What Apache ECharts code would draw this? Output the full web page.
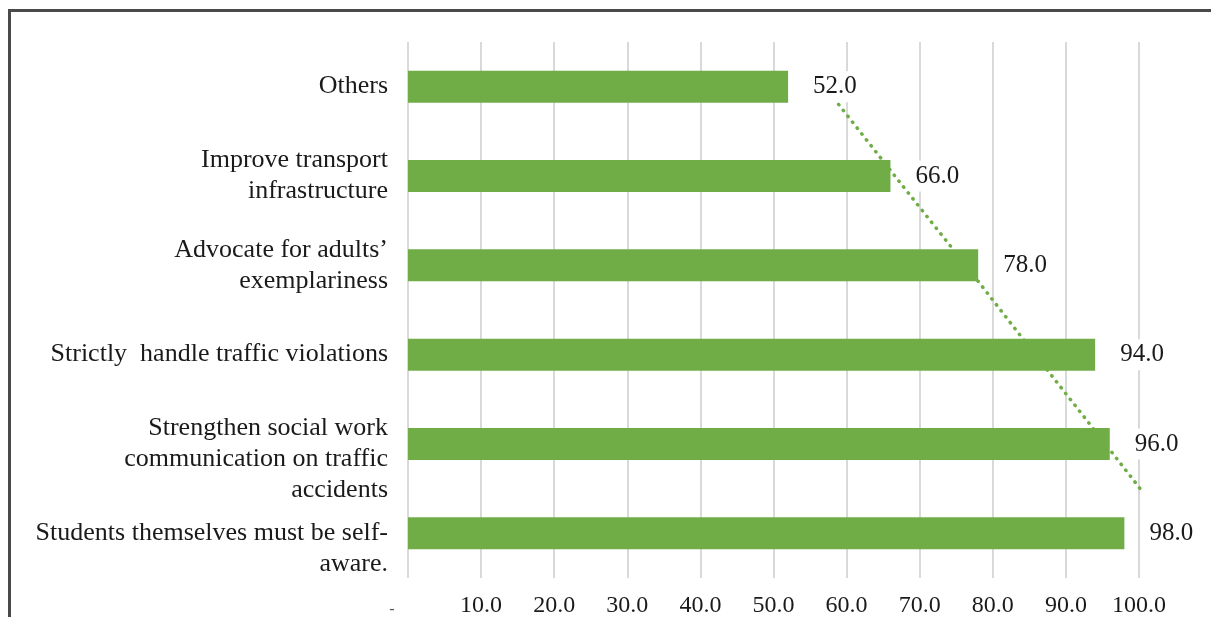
<!DOCTYPE html>
<html>
<head>
<meta charset="utf-8">
<script src="https://cdn.jsdelivr.net/npm/echarts@6/dist/echarts.min.js"></script>
<style>
html,body{margin:0;padding:0;background:#fff;}
#c{width:1211px;height:617px;}
</style>
</head>
<body>
<div id="c"></div>
<script>
const categories = [
  'Others',
  'Improve transport\ninfrastructure',
  'Advocate for adults\u2019\nexemplariness',
  'Strictly  handle traffic violations',
  'Strengthen social work\ncommunication on traffic\naccidents',
  'Students themselves must be self-\naware.'
];
const values = [52.0, 66.0, 78.0, 94.0, 96.0, 98.0];
// linear trendline (value at each category centre)
const trendValues = [57.0, 66.6, 76.3, 85.8, 95.4, 104.9];
const tickLabels = ['-', '10.0', '20.0', '30.0', '40.0', '50.0', '60.0', '70.0', '80.0', '90.0', '100.0'];
const labelShifted = [false, false, false, false, true, true];

const FONT = '"Liberation Serif", "Times New Roman", serif';
const GREEN = '#70AD47';

const chart = echarts.init(document.getElementById('c'), null, {renderer: 'canvas'});
chart.setOption({
  animation: false,
  backgroundColor: '#fff',
  graphic: [{
    type: 'rect', z: 100,
    shape: {x: 9.5, y: 10.5, width: 1400, height: 800},
    style: {fill: 'none', stroke: '#4a4a4a', lineWidth: 3}
  }],
  grid: {left: 408, right: 72, top: 42, bottom: 39, containLabel: false, outerBoundsMode: 'none'},
  xAxis: {
    type: 'value', min: 0, max: 100, interval: 10,
    axisLine: {show: false}, axisTick: {show: false},
    splitLine: {show: true, lineStyle: {color: '#d9d9d9', width: 2}},
    axisLabel: {
      margin: 16, showMinLabel: true, hideOverlap: false,
      fontFamily: FONT, fontSize: 24, color: '#1a1a1a',
      formatter: function (v) {
        const s = tickLabels[Math.round(v / 10)];
        return v === 0 ? '{d|' + s + '}' : s;
      },
      rich: {d: {fontFamily: FONT, fontSize: 16, color: '#555', padding: [8, 32, 0, 0]}}
    }
  },
  yAxis: {
    type: 'category', inverse: true,
    data: categories,
    axisLine: {show: false}, axisTick: {show: false},
    splitLine: {show: false},
    axisLabel: {
      interval: 0, hideOverlap: false,
      margin: 20, fontFamily: FONT, fontSize: 26, color: '#1a1a1a',
      lineHeight: 31, align: 'right',
      formatter: (v, i) => (labelShifted[i] ? '\n' : '') + v
    }
  },
  series: [
    {
      type: 'line', data: trendValues, z: 1,
      symbol: 'none', clip: true, silent: true,
      lineStyle: {color: GREEN, width: 3.5, type: [0.5, 7], cap: 'round'}
    },
    {
      type: 'bar', data: values, z: 2, barWidth: 32,
      itemStyle: {color: GREEN},
      label: {
        show: true, position: 'right', distance: 20,
        fontFamily: FONT, fontSize: 25, color: '#1a1a1a',
        backgroundColor: '#fff', padding: [3, 5, 3, 5],
        formatter: p => p.value.toFixed(1)
      }
    }
  ]
});
</script>
</body>
</html>
